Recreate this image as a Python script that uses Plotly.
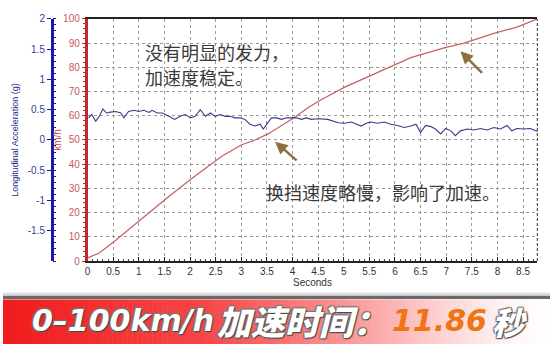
import plotly.graph_objects as go

# ---------------- data ----------------
speed_t = [0, 0.23, 0.55, 1.0, 1.52, 2.04, 2.62, 3.01, 3.27, 3.53, 3.79, 4.04,
           4.30, 4.56, 5.02, 5.66, 6.31, 6.96, 7.35, 7.93, 8.38, 8.78]
speed_kmh = [1.3, 3.3, 8.6, 16.6, 25.5, 34.2, 43.3, 48, 50, 52.6, 56, 59.3,
             63.3, 66.6, 71.8, 78, 84, 88, 90, 94, 96.6, 100]

acc_t = [0.02, 0.08, 0.16, 0.23, 0.30, 0.37, 0.45, 0.55, 0.65, 0.71, 0.80, 0.91,
         1.00, 1.10, 1.20, 1.26, 1.36, 1.46, 1.59, 1.70, 1.81, 1.91, 2.01, 2.10,
         2.20, 2.30, 2.40, 2.49, 2.59, 2.69, 2.78, 2.88, 2.98, 3.07, 3.17, 3.27,
         3.37, 3.43, 3.50, 3.59, 3.69, 3.79, 3.88, 3.98, 4.08, 4.17, 4.27, 4.37,
         4.50, 4.69, 4.89, 5.02, 5.15, 5.34, 5.44, 5.53, 5.66, 5.79, 5.92, 6.05,
         6.18, 6.31, 6.41, 6.50, 6.60, 6.70, 6.79, 6.89, 6.99, 7.09, 7.18, 7.28,
         7.41, 7.54, 7.67, 7.80, 7.93, 8.06, 8.19, 8.28, 8.38, 8.51, 8.64, 8.80]
acc_g = [0.365, 0.42, 0.31, 0.39, 0.51, 0.445, 0.46, 0.47, 0.445, 0.365, 0.47, 0.49,
         0.47, 0.49, 0.455, 0.49, 0.445, 0.445, 0.39, 0.34, 0.39, 0.42, 0.365, 0.39,
         0.50, 0.39, 0.445, 0.39, 0.42, 0.39, 0.39, 0.365, 0.365, 0.34, 0.26, 0.23,
         0.26, 0.18, 0.26, 0.365, 0.365, 0.34, 0.365, 0.365, 0.365, 0.34, 0.365, 0.34,
         0.35, 0.34, 0.285, 0.275, 0.295, 0.23, 0.275, 0.295, 0.275, 0.295, 0.26, 0.24,
         0.205, 0.23, 0.26, 0.125, 0.24, 0.22, 0.18, 0.10, 0.19, 0.15, 0.07, 0.15,
         0.18, 0.165, 0.19, 0.165, 0.205, 0.18, 0.24, 0.15, 0.19, 0.18, 0.19, 0.135]

x_ticks = [i * 0.5 for i in range(18)]
x_ticklabels = ["0", "0.5", "1", "1.5", "2", "2.5", "3", "3.5", "4", "4.5",
                "5", "5.5", "6", "6.5", "7", "7.5", "8", "8.5"]
acc_ticks = [-1.5, -1, -0.5, 0, 0.5, 1, 1.5, 2]
acc_ticklabels = ["-1.5", "-1", "-0.5", "0", "0.5", "1", "1.5", "2"]

note_top = ["没有明显的发力，", "加速度稳定。"]
note_shift = "换挡速度略慢，影响了加速。"
banner_parts = ["0–100km/h", "加速时间：", "11.86", "秒"]

# ---------------- figure ----------------
W, H = 550, 349
fig = go.Figure()

fig.add_trace(go.Scatter(x=speed_t, y=speed_kmh, mode="lines",
                         line=dict(color="#c46060", width=1.2),
                         xaxis="x", yaxis="y", showlegend=False))
fig.add_trace(go.Scatter(x=acc_t, y=acc_g, mode="lines",
                         line=dict(color="#3a3a8c", width=1.1),
                         xaxis="x", yaxis="y2", showlegend=False))

x0p, x1p = 85 / W, 537.3 / W
y0p, y1p = (H - 263.3) / H, (H - 13.3) / H
grid = dict(showgrid=True, gridcolor="#9a9a9a", gridwidth=1, griddash="3px,3px")
font_ax = "Liberation Sans, Arial, sans-serif"

fig.update_layout(
    width=W, height=H, margin=dict(l=0, r=0, t=0, b=0),
    paper_bgcolor="white", plot_bgcolor="white",
    xaxis=dict(domain=[x0p, x1p], range=[0, 8.78], tickvals=x_ticks,
               ticktext=x_ticklabels, ticks="inside", ticklen=4, tickcolor="#222",
               minor=dict(dtick=0.1, ticks="inside", ticklen=2, tickcolor="#444"),
               showline=True, linecolor="#222", linewidth=1.5, mirror=True,
               tickfont=dict(family=font_ax, size=10, color="#333"),
               title=dict(text="Seconds", font=dict(family=font_ax, size=10, color="#333"),
                          standoff=2),
               zeroline=False, **grid),
    yaxis=dict(domain=[y0p, y1p], range=[0, 100], dtick=10, ticks="outside",
               ticklen=3, tickcolor="#c0282d",
               minor=dict(dtick=2, ticks="outside", ticklen=2, tickcolor="#c0282d"),
               showline=True, linecolor="#c0282d", linewidth=2.5,
               tickfont=dict(family=font_ax, size=10, color="#c85a5a"),
               title=dict(text="km/h", font=dict(family=font_ax, size=10, color="#c0504d"),
                          standoff=0),
               zeroline=False, **grid),
    yaxis2=dict(domain=[y0p, y1p], range=[-2, 2], overlaying="y", side="left",
                anchor="free", position=49 / W, tickvals=acc_ticks,
                ticktext=acc_ticklabels, ticks="outside", ticklen=4,
                tickcolor="#1a1aa8",
                minor=dict(dtick=0.1, ticks="inside", ticklen=3, tickcolor="#1a1aa8"),
                showline=True, linecolor="#1a1aa8", linewidth=2.5, showgrid=False,
                zeroline=False,
                tickfont=dict(family=font_ax, size=10, color="#3a3aa0"),
                title=dict(text="Longitudinal Acceleration (g)",
                           font=dict(family=font_ax, size=9, color="#2a2a90"),
                           standoff=6)),
)

# right border (dashed)
fig.add_shape(type="line", xref="x domain", yref="y domain", x0=1, x1=1, y0=0, y1=1,
              line=dict(color="#555", width=1.2, dash="3px,2px"))

# arrows
arrow_col = "#8a7340"
fig.add_annotation(x=3.66, y=49.3, xref="x", yref="y", text="", showarrow=True,
                   ax=23, ay=20, arrowhead=2, arrowsize=1, arrowwidth=2.5,
                   arrowcolor=arrow_col)
fig.add_annotation(x=7.28, y=86.6, xref="x", yref="y", text="", showarrow=True,
                   ax=23, ay=23, arrowhead=2, arrowsize=1, arrowwidth=2.5,
                   arrowcolor=arrow_col)

cjk = "Noto Sans CJK SC"
fig.add_annotation(x=141 / W, y=(H - 48) / H, xref="paper", yref="paper",
                   text=note_top[0], showarrow=False, xanchor="left", yanchor="middle",
                   font=dict(family=cjk, size=18, color="#3a3a3a"))
fig.add_annotation(x=141 / W, y=(H - 73) / H, xref="paper", yref="paper",
                   text=note_top[1], showarrow=False, xanchor="left", yanchor="middle",
                   font=dict(family=cjk, size=18, color="#3a3a3a"))
fig.add_annotation(x=262 / W, y=(H - 192) / H, xref="paper", yref="paper",
                   text=note_shift, showarrow=False, xanchor="left", yanchor="middle",
                   font=dict(family=cjk, size=18, color="#3a3a3a"))

# ---------------- banner ----------------
def lerp(a, b, f):
    return tuple(round(a[i] + (b[i] - a[i]) * f) for i in range(3))

stops = [(0, (240, 28, 28)), (200, (246, 70, 70)), (330, (250, 140, 140)),
         (430, (253, 205, 205)), (510, (255, 245, 245)), (550, (255, 255, 255))]

def grad(x):
    for (xa, ca), (xb, cb) in zip(stops[:-1], stops[1:]):
        if xa <= x <= xb:
            return lerp(ca, cb, (x - xa) / (xb - xa))
    return stops[-1][1]

band_top = 303
step = 5
for xs in range(0, W, step):
    c = grad(xs + step / 2)
    fig.add_shape(type="rect", xref="paper", yref="paper",
                  x0=xs / W, x1=min(xs + step + 0.5, W) / W, y0=0, y1=(H - band_top) / H,
                  line=dict(width=0), fillcolor="rgb(%d,%d,%d)" % c, layer="above")
fig.add_shape(type="rect", xref="paper", yref="paper", x0=0, x1=1,
              y0=(H - 302.5) / H, y1=(H - 299) / H, line=dict(width=0),
              fillcolor="#6a6a6a", layer="above")
fig.add_shape(type="rect", xref="paper", yref="paper", x0=0, x1=1,
              y0=(H - 299) / H, y1=(H - 296) / H, line=dict(width=0),
              fillcolor="#dcdcdc", layer="above")

shadow = "1px 1px 1px #444, -1px -1px 1px #777, 1px -1px 1px #777, -1px 1px 1px #777"
bfont = "DejaVu Sans, Noto Sans CJK SC"
ycen = (H - 325) / H
fig.add_annotation(x=27 / W, y=ycen, xref="paper", yref="paper", text=banner_parts[0],
                   showarrow=False, xanchor="left", yanchor="middle",
                   font=dict(family=bfont, size=30, color="white", weight=900,
                             style="italic", shadow=shadow))
fig.add_annotation(x=213 / W, y=ycen, xref="paper", yref="paper", text=banner_parts[1],
                   showarrow=False, xanchor="left", yanchor="middle",
                   font=dict(family="Noto Sans CJK SC", size=34, color="white", weight=900,
                             style="italic", shadow=shadow))
fig.add_annotation(x=389 / W, y=ycen, xref="paper", yref="paper", text=banner_parts[2],
                   showarrow=False, xanchor="left", yanchor="middle",
                   font=dict(family=bfont, size=30, color="#f07414", weight=900,
                             style="italic"))
fig.add_annotation(x=490 / W, y=ycen, xref="paper", yref="paper", text=banner_parts[3],
                   showarrow=False, xanchor="left", yanchor="middle",
                   font=dict(family="Noto Sans CJK SC", size=32, color="white", weight=900,
                             style="italic", shadow=shadow))

fig.write_html("out.html")
